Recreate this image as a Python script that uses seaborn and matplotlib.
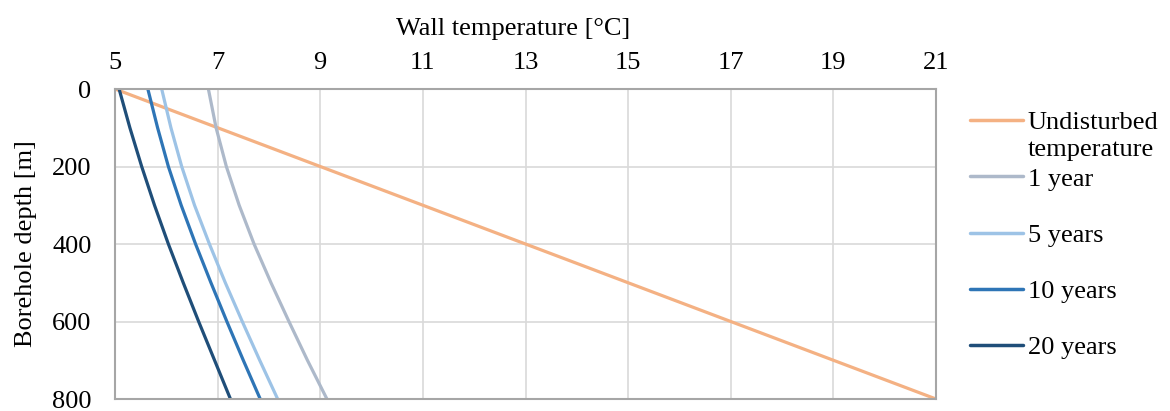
import matplotlib
matplotlib.use("Agg")
import matplotlib.pyplot as plt
import seaborn as sns
import pandas as pd

depth = [0, 100, 200, 300, 400, 500, 600, 700, 800]
undisturbed = [5.0, 7.0, 9.0, 11.0, 13.0, 15.0, 17.0, 19.0, 21.0]
year1 = [6.82, 6.97, 7.17, 7.42, 7.71, 8.04, 8.39, 8.75, 9.13]
year5 = [5.91, 6.09, 6.30, 6.55, 6.84, 7.15, 7.48, 7.82, 8.17]
year10 = [5.64, 5.83, 6.04, 6.29, 6.57, 6.87, 7.18, 7.50, 7.83]
year20 = [5.08, 5.29, 5.52, 5.77, 6.04, 6.33, 6.63, 6.94, 7.25]

series_names = ["Undisturbed temperature", "1 year", "5 years", "10 years", "20 years"]
series_values = [undisturbed, year1, year5, year10, year20]
colors = ["#F4B183", "#ADB9CA", "#9DC3E6", "#2E75B6", "#1F4E79"]

x_ticks = [5, 7, 9, 11, 13, 15, 17, 19, 21]
y_ticks = [0, 200, 400, 600, 800]

rows = []
for name, vals in zip(series_names, series_values):
    for d, t in zip(depth, vals):
        rows.append({"Series": name, "Temperature": t, "Depth": d})
df = pd.DataFrame(rows)

sns.set_theme(style="white")
plt.rcParams["font.family"] = ["Liberation Serif", "DejaVu Serif"]
plt.rcParams["text.color"] = "black"
plt.rcParams["axes.labelcolor"] = "black"

fig = plt.figure(figsize=(11.7, 4.11), dpi=100)
ax = fig.add_axes([115 / 1170, 1 - 399 / 411, (936 - 115) / 1170, (399 - 89) / 411])

sns.lineplot(data=df, x="Temperature", y="Depth", hue="Series", hue_order=series_names,
             palette=colors, sort=False, estimator=None, linewidth=2.3, ax=ax, legend=True)

ax.set_xlim(5, 21)
ax.set_ylim(800, 0)
ax.set_xticks(x_ticks)
ax.set_yticks(y_ticks)
ax.xaxis.tick_top()
ax.xaxis.set_label_position("top")
ax.tick_params(axis="x", length=0, labelsize=19, colors="black", pad=11)
ax.tick_params(axis="y", length=0, labelsize=19, colors="black", pad=17)
ax.set_xlabel("Wall temperature [°C]", fontsize=19, color="black")
ax.set_ylabel("Borehole depth [m]", fontsize=19, color="black")
ax.xaxis.set_label_coords(0.485, (399 - 35) / 310)
ax.yaxis.set_label_coords((37 - 115) / 821, 0.5)
ax.grid(True, color="#D9D9D9", linewidth=1.2)
ax.set_axisbelow(True)
for s in ax.spines.values():
    s.set_visible(True)
    s.set_color("#A6A6A6")
    s.set_linewidth(1.5)

leg = ax.legend(loc="upper left", bbox_to_anchor=(970 / 1170, 1 - 111 / 411),
                bbox_transform=fig.transFigure, frameon=False, fontsize=19,
                handlelength=2.0, handletextpad=0.19, labelspacing=1.24, borderaxespad=0,
                borderpad=0)
for line in leg.get_lines():
    line.set_linewidth(2.5)
for t in leg.get_texts():
    t.set_color("black")

# Excel-style wrapped first legend label: second line overlaps the row spacing
first = leg.get_texts()[0]
first.set_text("Undisturbed")
fig.canvas.draw()
bb = first.get_window_extent()
fig.text(bb.x0 / fig.bbox.width, (bb.y0 - 27 + (bb.y1 - bb.y0) / 2) / fig.bbox.height,
         "temperature", fontsize=19, color="black", ha="left", va="center")

fig.savefig("out.png", dpi=100)
